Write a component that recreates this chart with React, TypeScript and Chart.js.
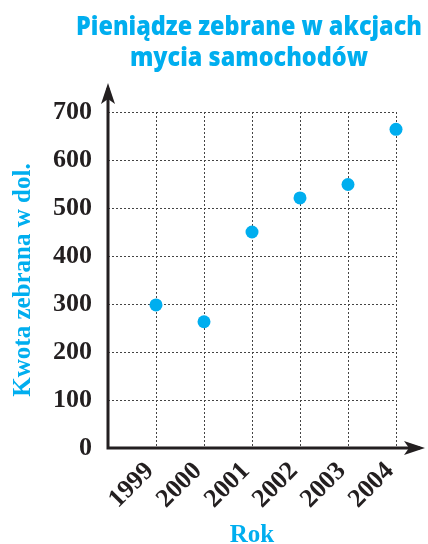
import React, { useEffect, useRef } from "react";
import { Chart, registerables } from "chart.js";

Chart.register(...registerables);

const years = [1999, 2000, 2001, 2002, 2003, 2004];
const amounts = [298, 263, 450, 521, 549, 664];
const titleLines = ["Pieniądze zebrane w akcjach", "mycia samochodów"];
const xAxisTitle = "Rok";
const yAxisTitle = "Kwota zebrana w dol.";

const CYAN = "#00AEEF";
const INK = "#231f20";

const decorPlugin = {
  id: "decor",
  afterDraw(chart: any) {
    const { ctx, chartArea } = chart;
    const { left, right, top, bottom } = chartArea;
    ctx.save();
    // axes
    ctx.strokeStyle = INK;
    ctx.fillStyle = INK;
    ctx.lineWidth = 3;
    ctx.beginPath();
    ctx.moveTo(left, bottom + 1.5);
    ctx.lineTo(left, top - 24);
    ctx.moveTo(left - 1.5, bottom);
    ctx.lineTo(right + 24, bottom);
    ctx.stroke();
    // y arrow
    const yt = top - 29;
    ctx.beginPath();
    ctx.moveTo(left, yt);
    ctx.lineTo(left - 7, yt + 21);
    ctx.lineTo(left, yt + 16);
    ctx.lineTo(left + 7, yt + 21);
    ctx.closePath();
    ctx.fill();
    // x arrow
    const xt = right + 29;
    ctx.beginPath();
    ctx.moveTo(xt, bottom);
    ctx.lineTo(xt - 21, bottom - 7);
    ctx.lineTo(xt - 16, bottom);
    ctx.lineTo(xt - 21, bottom + 7);
    ctx.closePath();
    ctx.fill();
    // title
    ctx.fillStyle = CYAN;
    ctx.font = "800 26px 'Open Sans', 'DejaVu Sans Condensed', sans-serif";
    ctx.textAlign = "center";
    ctx.textBaseline = "alphabetic";
    const w0 = ctx.measureText(titleLines[0]).width;
    const sx = 346 / w0;
    const cx = 249;
    const baselines = [35, 66];
    titleLines.forEach((t, i) => {
      ctx.save();
      ctx.translate(cx, baselines[i]);
      ctx.scale(sx, 1);
      ctx.fillText(t, 0, 0);
      ctx.restore();
    });
    ctx.restore();
  },
};

export default function App() {
  const ref = useRef<HTMLCanvasElement | null>(null);
  useEffect(() => {
    if (!ref.current) return;
    const chart = new Chart(ref.current, {
      type: "scatter",
      data: {
        datasets: [
          {
            data: years.map((y, i) => ({ x: y, y: amounts[i] })),
            backgroundColor: CYAN,
            borderColor: CYAN,
            borderWidth: 0,
            pointRadius: 6.5,
            clip: false,
          },
        ],
      },
      options: {
        animation: false,
        responsive: true,
        maintainAspectRatio: false,
        layout: { padding: { left: 0, right: 32, top: 112, bottom: 0 } },
        plugins: { legend: { display: false }, tooltip: { enabled: false }, title: { display: false } },
        scales: {
          x: {
            type: "linear",
            min: 1998,
            max: 2004,
            afterFit(scale: any) {
              scale.height = 96;
              scale.paddingLeft = 0;
              scale.paddingRight = 0;
            },
            ticks: {
              stepSize: 1,
              autoSkip: false,
              minRotation: 45,
              maxRotation: 45,
              padding: 8,
              labelOffset: -6,
              color: INK,
              font: { family: "'Liberation Serif', serif", weight: "bold", size: 26 },
              callback: (v: any) => (v === 1998 ? "" : String(v)),
            },
            grid: { color: "#444", lineWidth: 1, drawTicks: false },
            border: { display: false, dash: [2, 2] },
            title: {
              display: true,
              text: xAxisTitle,
              color: CYAN,
              font: { family: "'Liberation Serif', serif", weight: "bold", size: 25, lineHeight: 1 },
              padding: { top: 0, bottom: -4 },
            },
          },
          y: {
            min: 0,
            max: 700,
            afterFit(scale: any) {
              scale.width = 108;
              scale.paddingTop = 0;
              scale.paddingBottom = 0;
            },
            ticks: {
              stepSize: 100,
              padding: 16,
              color: INK,
              font: { family: "'Liberation Serif', serif", weight: "bold", size: 26 },
              callback: (v: any) => String(v),
            },
            grid: { color: "#444", lineWidth: 1, drawTicks: false },
            border: { display: false, dash: [2, 2] },
            title: {
              display: true,
              text: yAxisTitle,
              color: CYAN,
              font: { family: "'Liberation Serif', serif", weight: "bold", size: 25, lineHeight: 1 },
              padding: { top: 11, bottom: 0 },
            },
          },
        },
      },
      plugins: [decorPlugin],
    } as any);
    return () => chart.destroy();
  }, []);
  return (
    <div style={{ position: "absolute", left: 0, top: 0, width: 428, height: 544 }}>
      <canvas ref={ref} />
    </div>
  );
}
